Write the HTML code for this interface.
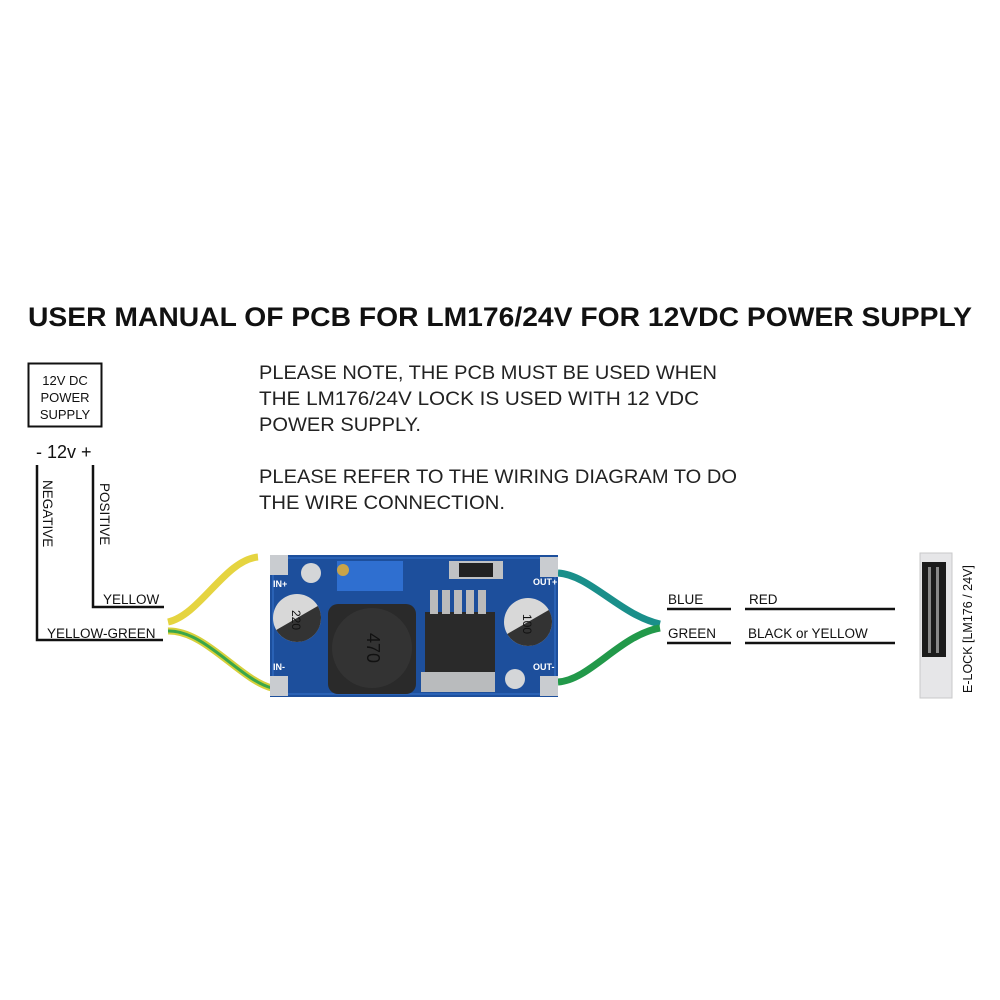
<!DOCTYPE html>
<html><head><meta charset="utf-8"><style>
html,body{margin:0;padding:0;background:#fff;}
svg{display:block;font-family:"Liberation Sans",sans-serif;}
</style></head><body>
<svg width="1000" height="1000" viewBox="0 0 1000 1000" xmlns="http://www.w3.org/2000/svg">
<rect width="1000" height="1000" fill="#fff"/>
<text x="500" y="326" text-anchor="middle" font-size="27" font-weight="bold" fill="#111" textLength="944" lengthAdjust="spacingAndGlyphs">USER MANUAL OF PCB FOR LM176/24V FOR 12VDC POWER SUPPLY</text>
<g font-size="19" fill="#222">
<text x="259" y="379" textLength="458" lengthAdjust="spacingAndGlyphs">PLEASE NOTE, THE PCB MUST BE USED WHEN</text>
<text x="259" y="405" textLength="440" lengthAdjust="spacingAndGlyphs">THE LM176/24V LOCK IS USED WITH 12 VDC</text>
<text x="259" y="431" textLength="162" lengthAdjust="spacingAndGlyphs">POWER SUPPLY.</text>
<text x="259" y="483" textLength="478" lengthAdjust="spacingAndGlyphs">PLEASE REFER TO THE WIRING DIAGRAM TO DO</text>
<text x="259" y="509" textLength="246" lengthAdjust="spacingAndGlyphs">THE WIRE CONNECTION.</text>
</g>
<rect x="28.5" y="363.5" width="73" height="63" fill="none" stroke="#111" stroke-width="2"/>
<g font-size="13" fill="#111" text-anchor="middle">
<text x="65" y="385">12V DC</text><text x="65" y="402">POWER</text><text x="65" y="419">SUPPLY</text>
</g>
<text x="36" y="458" font-size="18" fill="#111">- 12v +</text>
<g stroke="#111" stroke-width="2.5" fill="none">
<polyline points="37,465 37,640 163,640"/>
<polyline points="93,465 93,607 164,607"/>
<line x1="667" y1="609" x2="731" y2="609"/><line x1="745" y1="609" x2="895" y2="609"/>
<line x1="667" y1="643" x2="731" y2="643"/><line x1="745" y1="643" x2="895" y2="643"/>
</g>
<g font-size="13.5" fill="#111">
<text transform="translate(43,480) rotate(90)">NEGATIVE</text>
<text transform="translate(100,483) rotate(90)">POSITIVE</text>
<text x="103" y="604">YELLOW</text>
<text x="47" y="638">YELLOW-GREEN</text>
<text x="668" y="604">BLUE</text>
<text x="749" y="604">RED</text>
<text x="668" y="638">GREEN</text>
<text x="748" y="638">BLACK or YELLOW</text>
<text transform="translate(972,693) rotate(-90)" font-size="12.5">E-LOCK [LM176 / 24V]</text>
</g>
<!-- wires -->
<path d="M168,622 C200,615 225,560 258,557" stroke="#e5d440" stroke-width="7" fill="none"/>
<path d="M168,631 C205,630 240,680 272,688" stroke="#d6cf3a" stroke-width="7" fill="none"/>
<path d="M168,631 C205,630 240,680 272,688" stroke="#3aa64a" stroke-width="3" fill="none"/>
<path d="M558,573 C590,575 620,615 660,624" stroke="#1a8f8a" stroke-width="7" fill="none"/>
<path d="M558,682 C590,680 620,635 660,628" stroke="#22994a" stroke-width="7" fill="none"/>
<!-- pcb -->
<rect x="270" y="555" width="288" height="142" fill="#1d4f9c"/>
<rect x="273" y="558" width="282" height="136" fill="none" stroke="#2a62b5" stroke-width="2"/>
<rect x="270" y="555" width="18" height="20" fill="#c9ccd0"/><rect x="270" y="676" width="18" height="20" fill="#c9ccd0"/>
<rect x="540" y="557" width="18" height="20" fill="#c9ccd0"/><rect x="540" y="676" width="18" height="20" fill="#c9ccd0"/>
<circle cx="311" cy="573" r="10" fill="#d4d6d8"/><circle cx="515" cy="679" r="10" fill="#d4d6d8"/>
<rect x="337" y="561" width="66" height="30" fill="#2f6fd0"/>
<circle cx="343" cy="570" r="6" fill="#c9a44a"/>
<rect x="449" y="561" width="54" height="18" fill="#c0c2c4"/><rect x="459" y="563" width="34" height="14" fill="#222"/>
<rect x="328" y="604" width="88" height="90" rx="10" fill="#2a2a2a"/>
<circle cx="372" cy="648" r="40" fill="#333"/>
<text transform="translate(367,648) rotate(90)" font-size="18" text-anchor="middle" fill="#111">470</text>
<rect x="425" y="612" width="70" height="60" fill="#2a2a2a"/>
<g fill="#bbb"><rect x="430" y="590" width="8" height="24"/><rect x="442" y="590" width="8" height="24"/><rect x="454" y="590" width="8" height="24"/><rect x="466" y="590" width="8" height="24"/><rect x="478" y="590" width="8" height="24"/></g>
<rect x="421" y="672" width="74" height="20" fill="#b9bbbd"/>
<circle cx="297" cy="618" r="24" fill="#d8d8d8"/><path d="M273,618 a24,24 0 0 0 48,0 z" fill="#333" transform="rotate(-30 297 618)"/>
<text transform="translate(292,620) rotate(90)" font-size="12" text-anchor="middle" fill="#111">220</text>
<circle cx="528" cy="622" r="24" fill="#d8d8d8"/><path d="M504,622 a24,24 0 0 0 48,0 z" fill="#333" transform="rotate(-30 528 622)"/>
<text transform="translate(523,624) rotate(90)" font-size="12" text-anchor="middle" fill="#111">100</text>
<g font-size="9" fill="#fff" font-weight="bold"><text x="273" y="587">IN+</text><text x="273" y="670">IN-</text><text x="533" y="585">OUT+</text><text x="533" y="670">OUT-</text></g>
<!-- lock -->
<rect x="920" y="553" width="32" height="145" fill="#e6e6e8" stroke="#c8c8ca"/>
<rect x="922" y="562" width="24" height="95" fill="#1b1b1b"/>
<rect x="928" y="567" width="3" height="86" fill="#888"/><rect x="936" y="567" width="3" height="86" fill="#888"/>
</svg>
</body></html>
